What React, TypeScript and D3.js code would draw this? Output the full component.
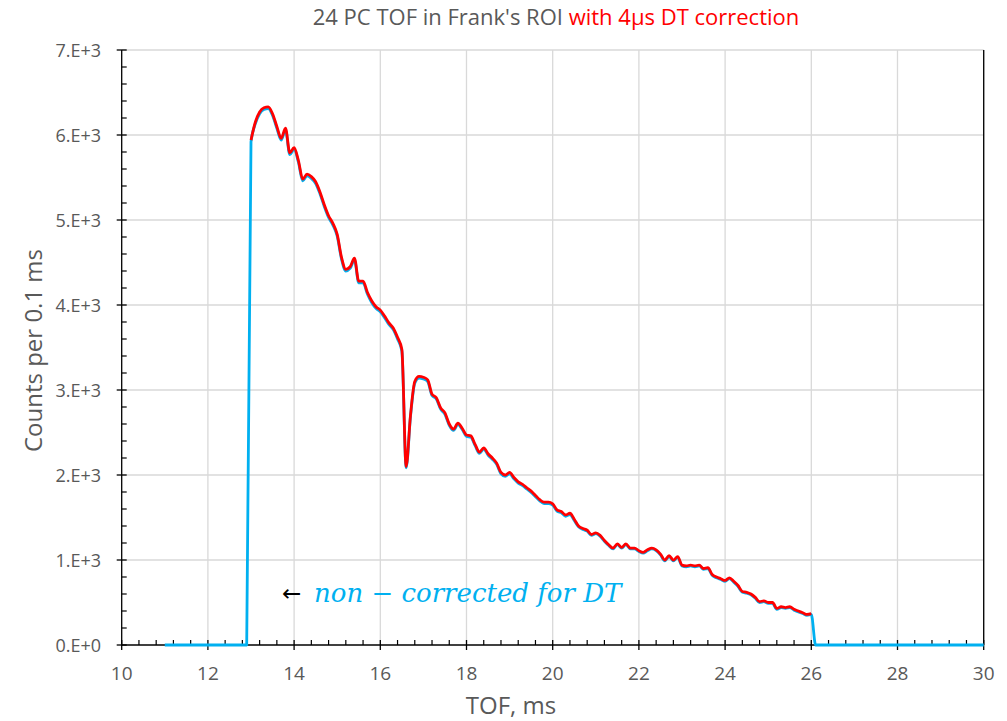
import React from "react";
import * as d3 from "d3";

// TOF bins (ms), 0.1 ms wide
const correctedTof = d3.range(130, 261).map((i) => i / 10);
const nonCorrectedTof = d3.range(110, 301).map((i) => i / 10);

// Counts per 0.1 ms, with 4 µs dead-time correction (13.0 .. 26.0 ms)
const correctedCounts = [
  5940, 6150, 6270, 6320, 6330, 6250, 6100, 5960, 6080, 5790,
  5850, 5700, 5480, 5540, 5510, 5450, 5330, 5180, 5050, 4960,
  4830, 4560, 4420, 4450, 4550, 4280, 4280, 4150, 4050, 3980,
  3940, 3870, 3790, 3730, 3620, 3480, 2100, 2700, 3100, 3160,
  3150, 3120, 2950, 2910, 2790, 2730, 2600, 2540, 2610, 2550,
  2470, 2460, 2360, 2270, 2320, 2250, 2200, 2140, 2030, 2000,
  2030, 1970, 1920, 1890, 1850, 1810, 1760, 1710, 1680, 1680,
  1660, 1590, 1570, 1530, 1550, 1480, 1400, 1370, 1350, 1300,
  1320, 1290, 1230, 1180, 1140, 1190, 1150, 1190, 1140, 1140,
  1110, 1090, 1120, 1140, 1120, 1070, 1000, 1050, 1000, 1040,
  940, 930, 940, 930, 940, 900, 910, 830, 800, 780,
  760, 790, 750, 700, 630, 620, 600, 560, 510, 520,
  500, 500, 430, 450, 440, 450, 420, 400, 380, 360,
  370,
];

// Counts per 0.1 ms, non-corrected for DT (11.0 .. 30.0 ms)
const nonCorrectedCounts = [
  0, 0, 0, 0, 0, 0, 0, 0, 0, 0,
  0, 0, 0, 0, 0, 0, 0, 0, 0, 0,
  5920, 6130, 6250, 6300, 6310, 6230, 6080, 5940, 6060, 5770,
  5830, 5680, 5460, 5520, 5490, 5430, 5310, 5160, 5030, 4940,
  4810, 4540, 4400, 4430, 4530, 4260, 4260, 4130, 4030, 3960,
  3920, 3850, 3770, 3710, 3600, 3460, 2085, 2685, 3080, 3140,
  3130, 3100, 2935, 2895, 2775, 2715, 2585, 2525, 2595, 2535,
  2455, 2445, 2345, 2255, 2305, 2235, 2185, 2125, 2015, 1985,
  2015, 1955, 1905, 1875, 1835, 1795, 1745, 1695, 1665, 1665,
  1645, 1575, 1555, 1515, 1535, 1465, 1390, 1360, 1340, 1290,
  1310, 1280, 1220, 1170, 1130, 1180, 1140, 1180, 1130, 1130,
  1100, 1080, 1110, 1130, 1110, 1060, 990, 1040, 990, 1030,
  930, 920, 930, 920, 930, 890, 900, 820, 790, 770,
  750, 780, 740, 690, 620, 610, 590, 550, 500, 510,
  490, 490, 420, 440, 430, 440, 410, 390, 370, 350,
  360,
  0, 0, 0, 0, 0, 0, 0, 0, 0, 0,
  0, 0, 0, 0, 0, 0, 0, 0, 0, 0,
  0, 0, 0, 0, 0, 0, 0, 0, 0, 0,
  0, 0, 0, 0, 0, 0, 0, 0, 0, 0,
];

const xTicks = [10, 12, 14, 16, 18, 20, 22, 24, 26, 28, 30];
const yTicks = [0, 1000, 2000, 3000, 4000, 5000, 6000, 7000];
const yTickLabels = ["0.E+0", "1.E+3", "2.E+3", "3.E+3", "4.E+3", "5.E+3", "6.E+3", "7.E+3"];

const W = 1007;
const H = 721;
const M = { left: 121.7, right: 983.7, top: 50, bottom: 645 };

export default function App() {
  const x = d3.scaleLinear().domain([10, 30]).range([M.left, M.right]);
  const y = d3.scaleLinear().domain([0, 7000]).range([M.bottom, M.top]);

  const line = d3
    .line<[number, number]>()
    .x((d) => x(d[0]))
    .y((d) => y(d[1]))
    .curve(d3.curveMonotoneX);

  const bluePath = line(nonCorrectedTof.map((t, i) => [t, nonCorrectedCounts[i]] as [number, number])) || "";
  const redPath = line(correctedTof.map((t, i) => [t, correctedCounts[i]] as [number, number])) || "";

  const xMinor = d3.range(0, 51).map((i) => 10 + i * 0.4).filter((v) => Math.abs(v / 2 - Math.round(v / 2)) > 1e-6);
  const yMinor = d3.range(0, 36).map((i) => i * 200).filter((v) => v % 1000 !== 0);

  const grey = "#595959";
  const gridC = "#d9d9d9";
  const font = "'Open Sans', 'Noto Sans', sans-serif";

  return (
    <svg width={W} height={H} style={{ position: "absolute", left: 0, top: 0, background: "#fff" }}>
      <rect x={0} y={0} width={W} height={H} fill="#fff" />
      {/* grid */}
      {xTicks.slice(1).map((t) => (
        <line key={"gx" + t} x1={x(t)} x2={x(t)} y1={M.top} y2={M.bottom} stroke={gridC} strokeWidth={1.3} />
      ))}
      {yTicks.slice(1).map((t) => (
        <line key={"gy" + t} x1={M.left} x2={M.right} y1={y(t)} y2={y(t)} stroke={gridC} strokeWidth={1.3} />
      ))}
      {/* right border */}
      <line x1={M.right} x2={M.right} y1={M.top} y2={M.bottom} stroke="#000" strokeWidth={1.3} />

      {/* axes */}
      <line x1={M.left} x2={M.left} y1={M.top} y2={M.bottom} stroke="#000" strokeWidth={1.3} />
      <line x1={M.left} x2={M.right} y1={M.bottom} y2={M.bottom} stroke="#000" strokeWidth={1.3} />
      {xTicks.map((t) => (
        <line key={"xt" + t} x1={x(t)} x2={x(t)} y1={M.bottom - 5} y2={M.bottom + 5} stroke="#000" strokeWidth={1.3} />
      ))}
      {xMinor.map((t, i) => (
        <line key={"xm" + i} x1={x(t)} x2={x(t)} y1={M.bottom - 5} y2={M.bottom} stroke="#000" strokeWidth={1.2} />
      ))}
      {yTicks.map((t) => (
        <line key={"yt" + t} x1={M.left - 5} x2={M.left + 5} y1={y(t)} y2={y(t)} stroke="#000" strokeWidth={1.3} />
      ))}
      {yMinor.map((t) => (
        <line key={"ym" + t} x1={M.left} x2={M.left + 5} y1={y(t)} y2={y(t)} stroke="#000" strokeWidth={1.2} />
      ))}

      {/* tick labels */}
      {xTicks.map((t) => (
        <text key={"xl" + t} x={x(t)} y={680} textAnchor="middle" fontFamily={font} fontSize={19} fill={grey}>
          {t}
        </text>
      ))}
      {yTicks.map((t, i) => (
        <text key={"yl" + t} x={101} y={y(t) + 6.5} textAnchor="end" fontFamily={font} fontSize={18} fill={grey}>
          {yTickLabels[i]}
        </text>
      ))}

      {/* series */}
      <path d={bluePath} fill="none" stroke="#00b0f0" strokeWidth={2.8} strokeLinejoin="round" />
      <path d={redPath} fill="none" stroke="#ff0000" strokeWidth={2.8} strokeLinejoin="round" />

      {/* annotation */}
      <text x={282} y={601} fontFamily="'DejaVu Sans', sans-serif" fontSize={23} fill="#000">
        ←
      </text>
      <text x={314} y={602} fontFamily="'DejaVu Serif', serif" fontStyle="italic" fontSize={26} fill="#00b0f0">
        non − corrected for DT
      </text>

      {/* titles */}
      <text x={556} y={25} textAnchor="middle" fontFamily={font} fontSize={22}>
        <tspan fill={grey}>24 PC TOF in Frank's ROI </tspan>
        <tspan fill="#ff0000">with 4μs DT correction</tspan>
      </text>
      <text x={511} y={714} textAnchor="middle" fontFamily={font} fontSize={24} fill={grey}>
        TOF, ms
      </text>
      <text
        transform={`translate(42, ${(M.top + M.bottom) / 2 + 3}) rotate(-90)`}
        textAnchor="middle"
        fontFamily={font}
        fontSize={24}
        fill={grey}
      >
        Counts per 0.1 ms
      </text>
    </svg>
  );
}
